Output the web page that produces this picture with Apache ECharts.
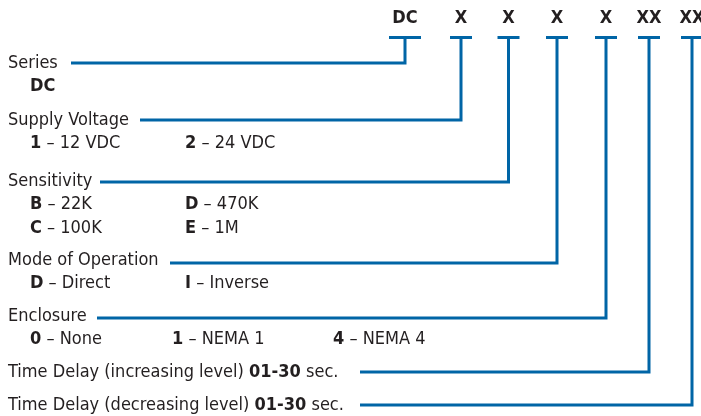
<!DOCTYPE html>
<html>
<head>
<meta charset="utf-8">
<script src="https://cdn.jsdelivr.net/npm/echarts@6/dist/echarts.min.js"></script>
<style>
html,body{margin:0;padding:0;background:#fff;}
#chart{width:701px;height:416px;}
</style>
</head>
<body>
<div id="chart"></div>
<script>
// ---- data ----
const partCodes = ['DC', 'X', 'X', 'X', 'X', 'XX', 'XX'];
const fieldNames = ['Series', 'Supply Voltage', 'Sensitivity', 'Mode of Operation', 'Enclosure',
  'Time Delay (increasing level)', 'Time Delay (decreasing level)'];
const seriesCodes = ['DC'];
const seriesLabels = [''];
const supplyCodes = ['1', '2'];
const supplyLabels = ['12 VDC', '24 VDC'];
const sensitivityCodes = ['B', 'C', 'D', 'E'];
const sensitivityLabels = ['22K', '100K', '470K', '1M'];
const modeCodes = ['D', 'I'];
const modeLabels = ['Direct', 'Inverse'];
const enclosureCodes = ['0', '1', '4'];
const enclosureLabels = ['None', 'NEMA 1', 'NEMA 4'];
const delayRange = '01-30';
const delayUnit = 'sec.';

// ---- layout (positions / styles) ----
const W = 701, H = 416;
const TEXT = '#231f20', BLUE = '#0065a6';
const FONT = "'DejaVu Sans Condensed', 'Liberation Sans Narrow', 'Liberation Sans', sans-serif";
const FS = 18;
const codeX = [405, 461, 508.5, 557, 606, 649, 692];
const barHalf = [16, 11, 11, 11, 11, 11, 11];
const codeY = 18, barY = 37.5;
const labelX = 8;
const rowTextY = [63, 120, 181, 260, 316, 372, 405];
const rowLineY = [63, 120, 182, 263, 318, 372, 405];
const lineStartX = [71, 140, 100, 170, 97, 360, 360];
const optStep = 23.5;
const colsByCount = {1: [30], 2: [30, 185], 3: [30, 172, 333]};

const fieldOptions = [
  {codes: seriesCodes, labels: seriesLabels, perCol: 1},
  {codes: supplyCodes, labels: supplyLabels, perCol: 1},
  {codes: sensitivityCodes, labels: sensitivityLabels, perCol: 2},
  {codes: modeCodes, labels: modeLabels, perCol: 1},
  {codes: enclosureCodes, labels: enclosureLabels, perCol: 1},
  {codes: [], labels: [], perCol: 1},
  {codes: [], labels: [], perCol: 1}
];

const rich = {
  b: {fontFamily: FONT, fontSize: FS, fontWeight: 'bold', fill: TEXT, color: TEXT}
};

function txt(api, x, y, text, extra) {
  const p = api.coord([x, y]);
  return {
    type: 'text', x: p[0], y: p[1],
    style: Object.assign({
      text: text, fill: TEXT, fontFamily: FONT, fontSize: FS,
      align: 'left', verticalAlign: 'middle', rich: rich
    }, extra || {})
  };
}

function renderField(params, api) {
  const i = api.value(0);
  const children = [];
  let name = fieldNames[i];
  if (i >= 5) name = name + ' {b|' + delayRange + '} ' + delayUnit;
  children.push(txt(api, labelX, rowTextY[i], name));
  const fo = fieldOptions[i];
  const nCols = Math.ceil(fo.codes.length / fo.perCol);
  const cols = colsByCount[nCols];
  fo.codes.forEach(function (c, k) {
    const col = Math.floor(k / fo.perCol), row = k % fo.perCol;
    const s = '{b|' + c + '}' + (fo.labels[k] ? ' \u2013 ' + fo.labels[k] : '');
    children.push(txt(api, cols[col], rowTextY[i] + optStep * (row + 1), s));
  });
  const pts = [[lineStartX[i], rowLineY[i]], [codeX[i], rowLineY[i]], [codeX[i], barY]]
    .map(function (q) { return api.coord(q); });
  children.push({type: 'polyline', shape: {points: pts},
    style: {stroke: BLUE, lineWidth: 3, fill: null, lineJoin: 'miter', lineCap: 'butt'}});
  return {type: 'group', children: children};
}

function renderCode(params, api) {
  const i = api.value(0);
  const p = api.coord([codeX[i], codeY]);
  const a = api.coord([codeX[i] - barHalf[i], barY]);
  const b = api.coord([codeX[i] + barHalf[i], barY]);
  return {type: 'group', children: [
    {type: 'text', x: p[0], y: p[1], style: {text: partCodes[i], fill: TEXT, fontFamily: FONT,
      fontSize: 18, fontWeight: 'bold', align: 'center', verticalAlign: 'middle'}},
    {type: 'line', shape: {x1: a[0], y1: a[1], x2: b[0], y2: b[1]},
      style: {stroke: BLUE, lineWidth: 3, lineCap: 'butt'}}
  ]};
}

const chart = echarts.init(document.getElementById('chart'), null, {renderer: 'canvas'});
chart.setOption({
  animation: false,
  backgroundColor: '#fff',
  grid: {left: 0, right: 0, top: 0, bottom: 0},
  xAxis: {type: 'value', min: 0, max: W, show: false},
  yAxis: {type: 'value', min: 0, max: H, inverse: true, show: false},
  series: [
    {type: 'custom', renderItem: renderField, clip: false,
      data: fieldNames.map(function (_, i) { return [i]; })},
    {type: 'custom', renderItem: renderCode, clip: false,
      data: partCodes.map(function (_, i) { return [i]; })}
  ]
});
</script>
</body>
</html>
